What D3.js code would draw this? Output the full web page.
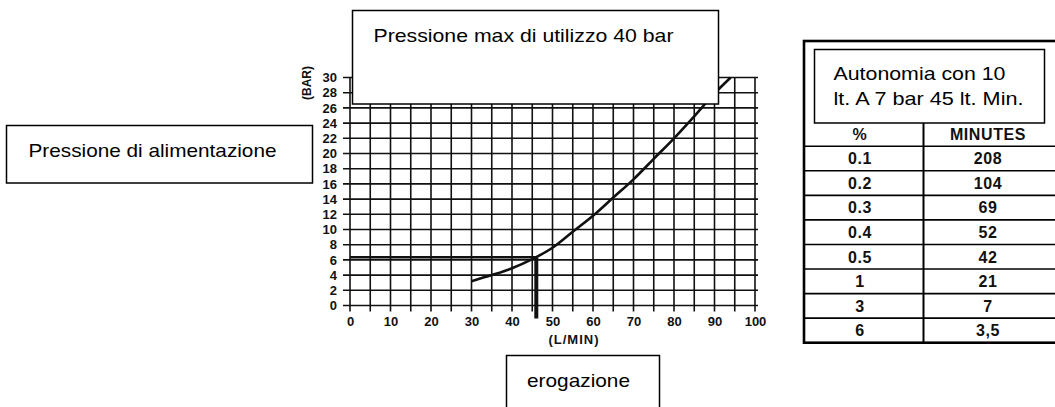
<!DOCTYPE html>
<html><head><meta charset="utf-8">
<script src="https://cdn.jsdelivr.net/npm/d3@7/dist/d3.min.js"></script>
<style>
html,body{margin:0;padding:0;background:#fff;}
svg{display:block;font-family:"Liberation Sans",Arial,Helvetica,sans-serif;}
</style></head>
<body><svg id="c" width="1055" height="407"></svg>
<script>
// ---- data ----
const xTickValues = [0,10,20,30,40,50,60,70,80,90,100];
const yTickValues = [0,2,4,6,8,10,12,14,16,18,20,22,24,26,28,30];
const flowLMin   = [30, 35, 40, 45, 50, 55, 60, 65, 70, 75, 80, 85, 90, 94];
const pressBar   = [3.2,4.0,4.9,6.1,7.6,9.7,11.8,14.2,16.6,19.3,22.0,24.9,27.9,30];
const opFlow = 46, opPress = 6.35;
const tablePct = ["0.1","0.2","0.3","0.4","0.5","1","3","6"];
const tableMin = ["208","104","69","52","42","21","7","3,5"];
const tableHeader = ["%","MINUTES"];
const xTitle = "(L/MIN)", yTitle = "(BAR)";
const noteTop = "Pressione max di utilizzo 40 bar";
const noteLeft = "Pressione di alimentazione";
const noteBottom = "erogazione";
const noteTable = ["Autonomia con 10","lt. A 7 bar 45 lt. Min."];

// ---- layout ----
const svg = d3.select("#c");
svg.append("rect").attr("width",1055).attr("height",407).attr("fill","#fff");
const x = d3.scaleLinear().domain([0,100]).range([350,755]);
const y = d3.scaleLinear().domain([0,30]).range([305.5,77.5]);
const ink = "#111";

// grid
const g = svg.append("g");
g.selectAll("line.v").data(d3.range(0,101,5)).join("line")
  .attr("x1",d=>x(d)).attr("x2",d=>x(d))
  .attr("y1",y(30)).attr("y2",y(0)+6)
  .attr("stroke",ink).attr("stroke-width",1.6);
g.selectAll("line.h").data(d3.range(0,31,2)).join("line")
  .attr("x1",x(0)-7).attr("x2",x(100)+3)
  .attr("y1",d=>y(d)).attr("y2",d=>y(d))
  .attr("stroke",ink).attr("stroke-width",1.6);

// axes labels
const xa = svg.append("g").attr("transform",`translate(0,${y(0)})`)
  .call(d3.axisBottom(x).tickValues(xTickValues).tickSize(0).tickPadding(11));
xa.select(".domain").remove();
xa.selectAll("text").attr("font-size",13).attr("font-weight","bold").attr("fill",ink)
  .attr("font-family","Liberation Sans, Arial, sans-serif");
const ya = svg.append("g").attr("transform",`translate(${x(0)},0)`)
  .call(d3.axisLeft(y).tickValues(yTickValues).tickSize(0).tickPadding(13));
ya.select(".domain").remove();
ya.selectAll("text").attr("font-size",13).attr("font-weight","bold").attr("fill",ink)
  .attr("font-family","Liberation Sans, Arial, sans-serif");

svg.append("text").attr("x",574).attr("y",344).attr("text-anchor","middle")
  .attr("font-size",13).attr("font-weight","bold").attr("letter-spacing",1).attr("fill",ink).text(xTitle);
svg.append("text").attr("transform","translate(311,83) rotate(-90)").attr("text-anchor","middle")
  .attr("font-size",12).attr("font-weight","bold").attr("fill",ink).text(yTitle);

// operating point lines
svg.append("line").attr("x1",x(0)).attr("x2",x(opFlow)).attr("y1",y(opPress)).attr("y2",y(opPress))
  .attr("stroke",ink).attr("stroke-width",2.6);
svg.append("line").attr("x1",x(opFlow)).attr("x2",x(opFlow)).attr("y1",y(opPress)).attr("y2",y(0)+13)
  .attr("stroke",ink).attr("stroke-width",4);

// curve
const pts = flowLMin.map((f,i)=>[f,pressBar[i]]);
svg.append("path").datum(pts)
  .attr("d",d3.line().x(d=>x(d[0])).y(d=>y(d[1])).curve(d3.curveMonotoneX))
  .attr("fill","none").attr("stroke",ink).attr("stroke-width",2.6);

// note boxes
function box(x0,y0,w,h){
  svg.append("rect").attr("x",x0).attr("y",y0).attr("width",w).attr("height",h)
    .attr("fill","#fff").attr("stroke","#000").attr("stroke-width",1.5);
}
function note(t,x0,yb,len){
  svg.append("text").attr("x",x0).attr("y",yb).attr("font-size",19).attr("fill","#000")
    .attr("textLength",len).attr("lengthAdjust","spacingAndGlyphs").text(t);
}
box(352.5,10.5,366,93.5); note(noteTop,373.5,41.5,300);
box(6.5,125.5,306,57.5); note(noteLeft,28.5,156.5,248);
box(506.5,355.5,153,60); note(noteBottom,527,386.5,103);

// table
const tbl = svg.append("g");
const rows = [tableHeader].concat(tablePct.map((p,i)=>[p,tableMin[i]]));
const ry = d3.scaleBand().domain(d3.range(rows.length)).range([121.7,342.7]);
const colX = [804,923.5,1062];
tbl.append("rect").attr("x",colX[0]).attr("y",41).attr("width",colX[2]-colX[0]).attr("height",342.7-41)
  .attr("fill","#fff").attr("stroke","#000").attr("stroke-width",2.6);
tbl.append("line").attr("x1",colX[1]).attr("x2",colX[1]).attr("y1",ry(0)).attr("y2",342.7)
  .attr("stroke","#000").attr("stroke-width",2);
tbl.selectAll("line.r").data(d3.range(1,rows.length)).join("line")
  .attr("x1",colX[0]).attr("x2",colX[2]).attr("y1",d=>ry(d)).attr("y2",d=>ry(d))
  .attr("stroke","#000").attr("stroke-width",1.6);
const colC = [860,988];
rows.forEach((r,i)=>{
  r.forEach((t,j)=>{
    tbl.append("text").attr("x",colC[j]).attr("y",ry(i)+ry.bandwidth()-6.5)
      .attr("text-anchor","middle").attr("font-size",16).attr("font-weight","bold")
      .attr("letter-spacing",0.6).attr("fill","#111").text(t);
  });
});
box(814.5,49.5,230,73.5);
note(noteTable[0],833.5,80,172);
note(noteTable[1],833.5,105,190);
</script></body></html>
